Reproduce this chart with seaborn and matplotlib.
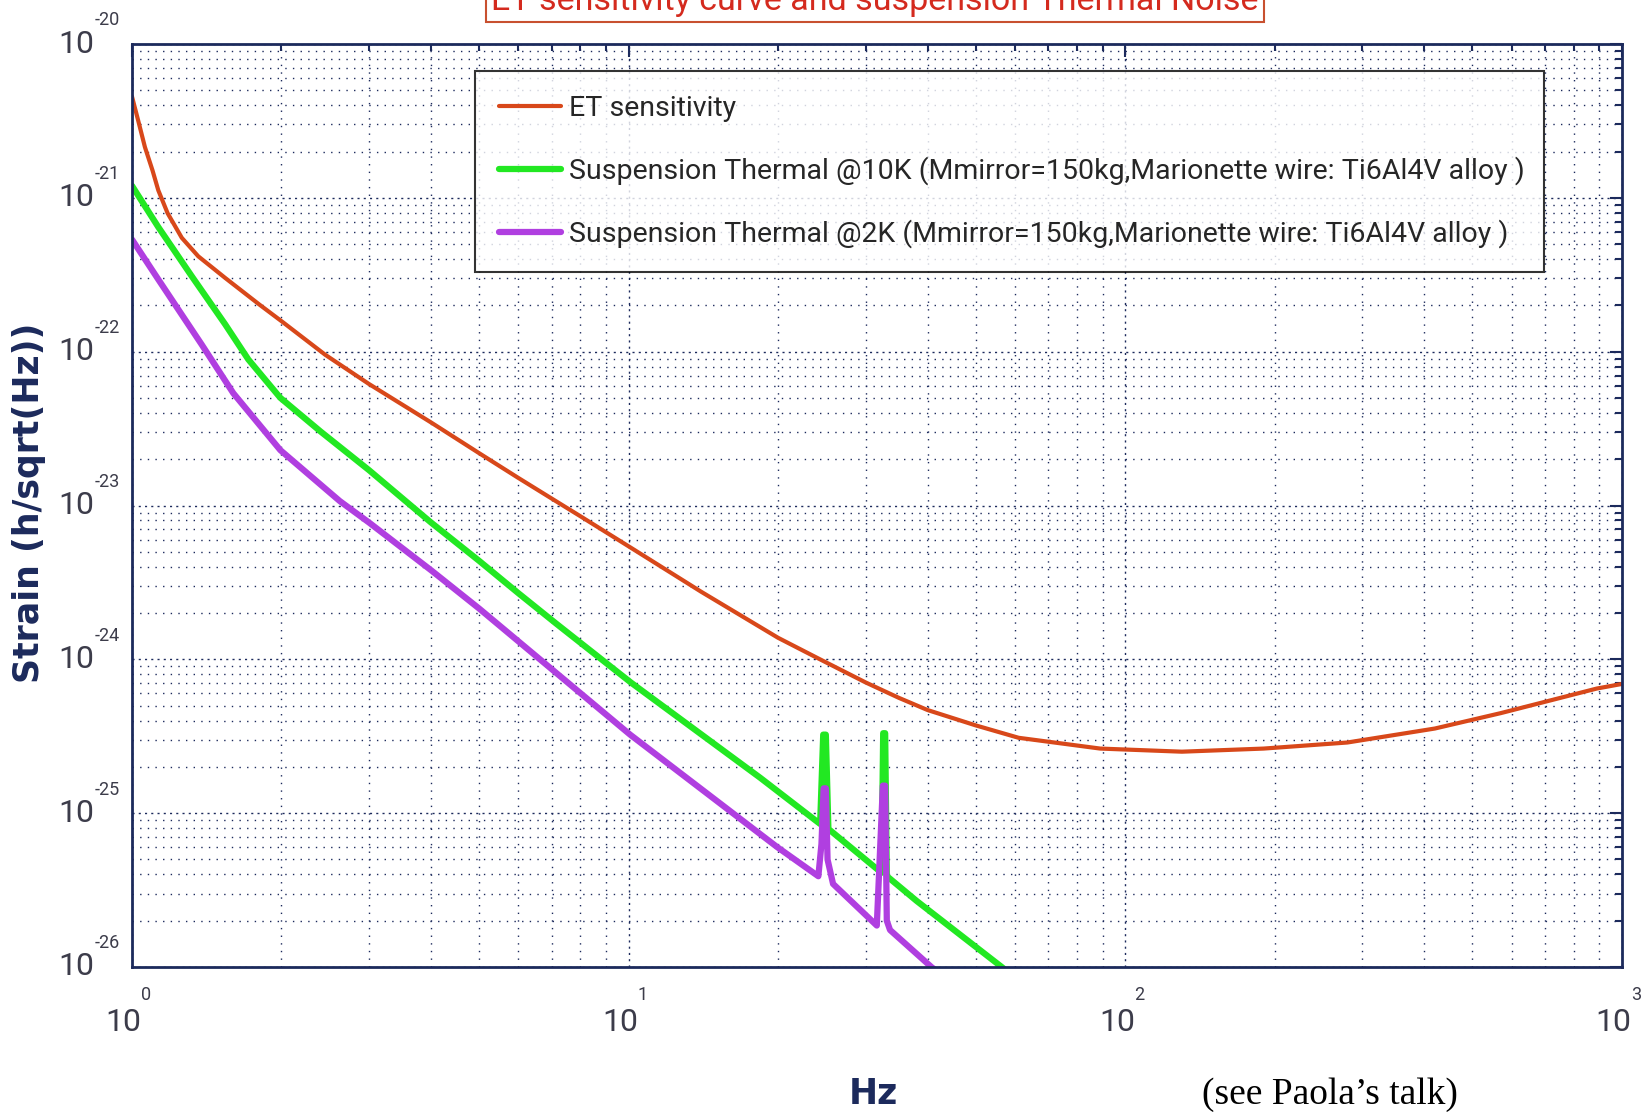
import numpy as np
import pandas as pd
import matplotlib
matplotlib.use("Agg")
import matplotlib.pyplot as plt
import seaborn as sns
from matplotlib.ticker import NullFormatter, LogLocator

# ET sensitivity curve
et_freq = [1.0, 1.03, 1.062, 1.10, 1.13, 1.18, 1.26, 1.36, 1.54, 1.80, 2.0, 2.45, 3.0, 4.0,
           5.0, 6.0, 7.0, 8.0, 10, 14, 20, 24, 30, 35, 40, 50, 61, 89, 130, 190, 280, 420,
           570, 890, 1000]
et_strain = [4.57e-21, 3.16e-21, 2.14e-21, 1.51e-21, 1.12e-21, 7.94e-22, 5.50e-22, 4.17e-22,
             3.02e-22, 2.04e-22, 1.58e-22, 9.55e-23, 6.17e-23, 3.47e-23, 2.19e-23, 1.51e-23,
             1.11e-23, 8.51e-24, 5.43e-24, 2.75e-24, 1.38e-24, 1.02e-24, 7.08e-25, 5.62e-25,
             4.68e-25, 3.72e-25, 3.09e-25, 2.63e-25, 2.51e-25, 2.63e-25, 2.88e-25, 3.55e-25,
             4.47e-25, 6.46e-25, 6.92e-25]

# suspension thermal noise @10K
g_freq = [1.0, 1.13, 1.32, 1.54, 1.715, 1.99, 2.4, 3.0, 4.0, 5.0, 6.0, 7.16, 10.1, 18.4,
          24.3, 24.65, 24.95, 25.25, 32.3, 32.55, 32.85, 33.1, 38, 56.4, 63]
g_strain = [1.20e-21, 6.46e-22, 3.09e-22, 1.51e-22, 8.91e-23, 5.01e-23, 3.02e-23, 1.70e-23,
            7.76e-24, 4.37e-24, 2.69e-24, 1.70e-24, 7.08e-25, 1.70e-25, 8.51e-26, 3.24e-25,
            3.24e-25, 7.9e-26, 4.1e-26, 3.31e-25, 3.31e-25, 3.9e-26, 2.69e-26, 1.0e-26,
            7.4e-27]

# suspension thermal noise @2K
p_freq = [1.0, 1.13, 1.26, 1.38, 1.6, 1.99, 2.62, 3.0, 4.0, 5.0, 10.07, 19.9, 24.1, 24.45,
          24.7, 24.95, 25.15, 25.8, 31.6, 32.5, 32.85, 33.1, 33.6, 40.7, 44.7]
p_strain = [5.37e-22, 2.95e-22, 1.74e-22, 1.12e-22, 5.37e-23, 2.29e-23, 1.07e-23, 7.76e-24,
            3.80e-24, 2.14e-24, 3.24e-25, 6.03e-26, 3.89e-26, 6.3e-26, 1.45e-25, 1.45e-25,
            5.0e-26, 3.47e-26, 1.86e-26, 1.51e-25, 1.51e-25, 2.0e-26, 1.74e-26, 1.0e-26,
            7.9e-27]

labels = ["ET sensitivity",
          "Suspension Thermal @10K (Mmirror=150kg,Marionette wire: Ti6Al4V alloy )",
          "Suspension Thermal @2K (Mmirror=150kg,Marionette wire: Ti6Al4V alloy )"]
x_exps = [0, 1, 2, 3]
y_exps = [-20, -21, -22, -23, -24, -25, -26]

sns.set_style("white")
plt.rcParams['font.family'] = ['Roboto', 'DejaVu Sans']

navy = '#1c2a5c'
sans = ['Roboto', 'DejaVu Sans']

fig = plt.figure(figsize=(16.45, 11.12), dpi=100)
ax = fig.add_axes([0.0802, 0.1304, 0.9058, 0.830])
ax.set_xscale('log')
ax.set_yscale('log')

sns.lineplot(x=et_freq, y=et_strain, ax=ax, color='#d8481a', lw=3, label=labels[0],
             solid_joinstyle='round')
sns.lineplot(x=g_freq, y=g_strain, ax=ax, color='#22e822', lw=4.5, label=labels[1],
             solid_joinstyle='round')
sns.lineplot(x=p_freq, y=p_strain, ax=ax, color='#b03fe0', lw=4.5, label=labels[2],
             solid_joinstyle='round')

ax.set_xlim(1, 1000)
ax.set_ylim(1e-26, 1e-20)
ax.xaxis.set_major_locator(LogLocator(base=10, numticks=10))
ax.yaxis.set_major_locator(LogLocator(base=10, numticks=10))
ax.xaxis.set_minor_locator(LogLocator(base=10, subs=np.arange(2, 10), numticks=20))
ax.yaxis.set_minor_locator(LogLocator(base=10, subs=np.arange(2, 10), numticks=20))
for axis in (ax.xaxis, ax.yaxis):
    axis.set_major_formatter(NullFormatter())
    axis.set_minor_formatter(NullFormatter())

ax.grid(which='major', color=navy, linestyle=(0, (1.5, 3)), lw=1.0)
ax.grid(which='minor', color=navy, linestyle=(0, (1, 4.5)), lw=1.0)
ax.tick_params(which='both', direction='in', top=True, right=True, color=navy)
ax.tick_params(which='major', length=9, width=1.5)
ax.tick_params(which='minor', length=5, width=1.5)
for s in ax.spines.values():
    s.set_color(navy)
    s.set_linewidth(2)

# MATLAB-style tick labels: "10" with a raised exponent
lab_col = '#3c3c4a'
for e in x_exps:
    ax.annotate('10', xy=(10.0 ** e, 0), xycoords=ax.get_xaxis_transform(),
                xytext=(-6, -40), textcoords='offset points', ha='center', va='center',
                fontsize=23, color=lab_col, family=sans)
    ax.annotate(str(e), xy=(10.0 ** e, 0), xycoords=ax.get_xaxis_transform(),
                xytext=(10, -20), textcoords='offset points', ha='center', va='center',
                fontsize=13, color=lab_col, family=sans)
for e in y_exps:
    ax.annotate('10', xy=(0, 10.0 ** e), xycoords=ax.get_yaxis_transform(),
                xytext=(-40, 0), textcoords='offset points', ha='center', va='center',
                fontsize=23, color=lab_col, family=sans)
    ax.annotate(str(e), xy=(0, 10.0 ** e), xycoords=ax.get_yaxis_transform(),
                xytext=(-18, 17), textcoords='offset points', ha='center', va='center',
                fontsize=13, color=lab_col, family=sans)

ax.set_xlabel('')
ax.set_ylabel('')
fig.text(0.0179, 0.548, 'Strain (h/sqrt(Hz))', rotation=90, ha='center', va='center',
         fontsize=25, fontweight='bold', color=navy, family=['DejaVu Sans'])
fig.text(0.531, 0.016, 'Hz', ha='center', va='center', fontsize=25,
         fontweight='bold', color=navy, family=['DejaVu Sans'])
fig.text(0.8085, 0.016, '(see Paola\u2019s talk)', ha='center', va='center', fontsize=27,
         color='black', family=['Liberation Serif', 'DejaVu Serif'])

# title box, mostly cut off at the top of the slide as in the source
fig.text(0.532, 0.991, 'ET sensitivity curve and suspension Thermal Noise', ha='center',
         va='baseline', fontsize=24.5, color='#d42a1e', family=sans,
         bbox=dict(boxstyle='square,pad=0.15', facecolor='white', edgecolor='#c8502f', lw=1.5))

leg = ax.legend(loc='upper left', bbox_to_anchor=(0.230, 0.756, 0.718, 0.215), mode='expand',
                fontsize=20.5, frameon=True, fancybox=False, handlelength=2.2,
                handletextpad=0.25, labelspacing=1.2, borderpad=0.85, borderaxespad=0)
leg.get_frame().set_edgecolor('black')
leg.get_frame().set_linewidth(1.5)
for t in leg.get_texts():
    t.set_family(sans)

fig.savefig('out.png', dpi=100)
